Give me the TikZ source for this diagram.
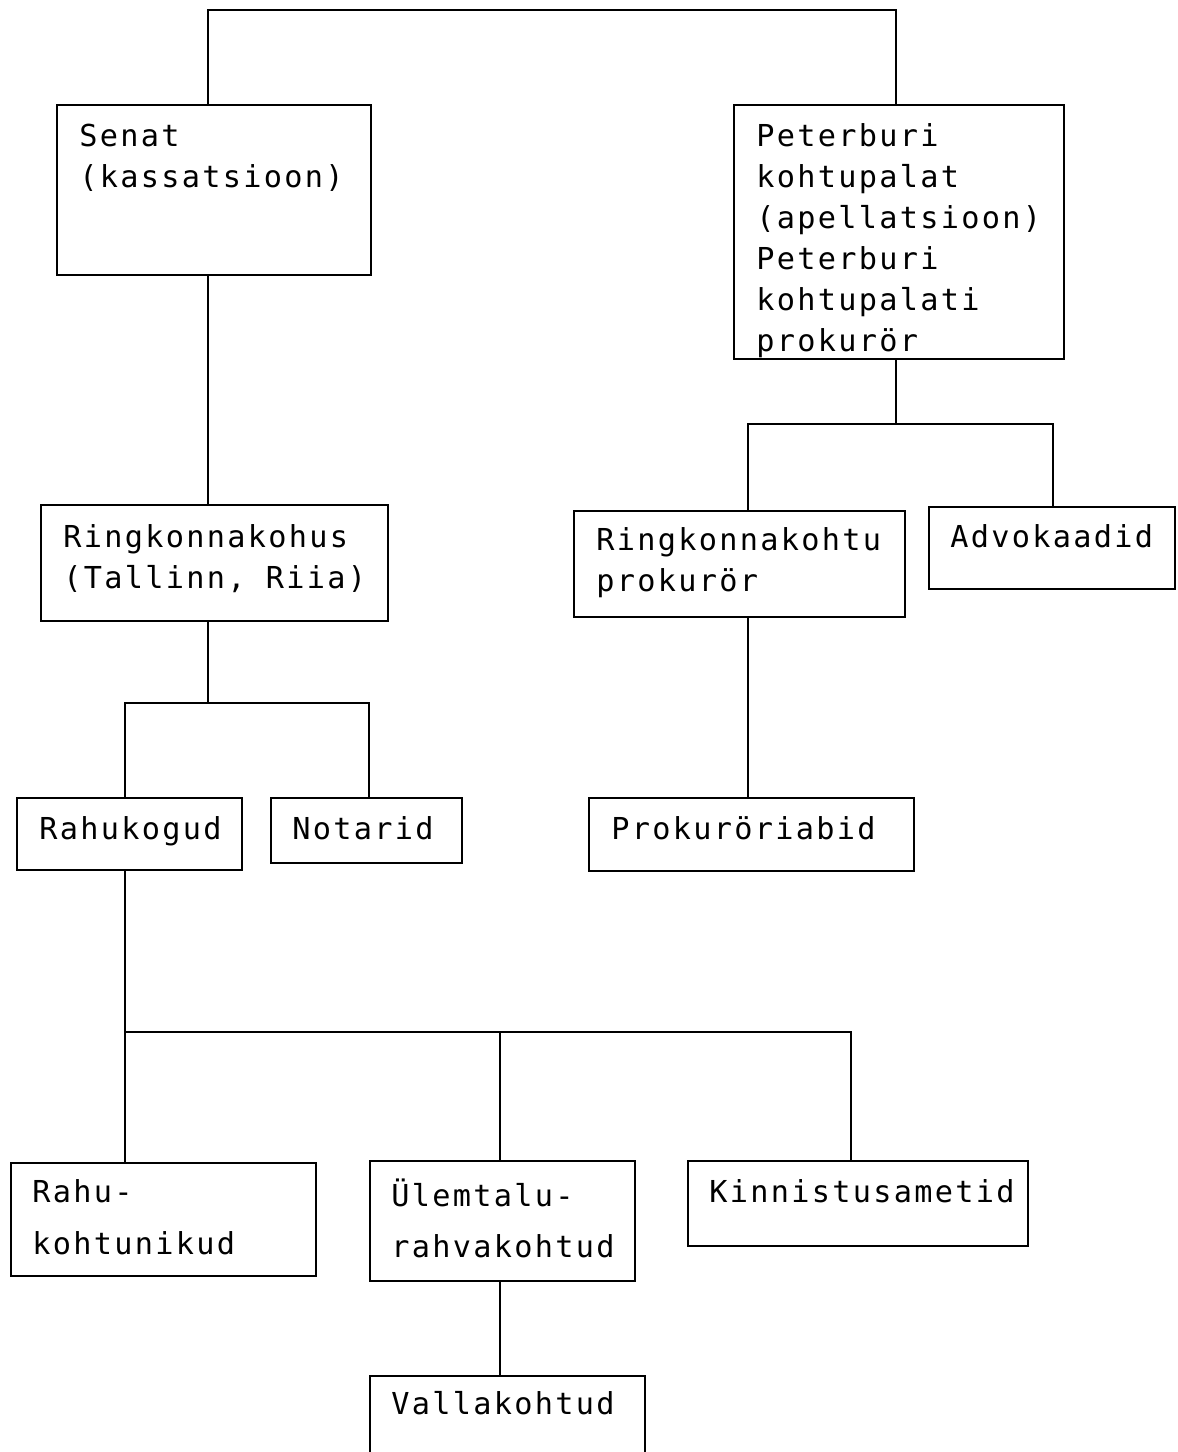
\documentclass[tikz,border=0pt]{standalone}
\usepackage{fontspec}
\setmonofont[LetterSpace=7.6]{DejaVu Sans Mono}
\usetikzlibrary{positioning,calc,fit}

\tikzset{
  box/.style={draw,line width=1.6pt,inner sep=0pt},
  lbl/.style={anchor=north west,inner sep=0pt,align=left,
    font=\ttfamily\fontsize{17.2}{23.3}\selectfont},
  lblwide/.style={lbl,font=\ttfamily\fontsize{17.2}{29.5}\selectfont},
}
% strut for the first line of every label
\newcommand{\fl}{\rule{0pt}{0.5cm}}

\begin{document}
\begin{tikzpicture}[x=0.02cm,y=-0.02cm,line width=1.6pt]
    \useasboundingbox (0,0) rectangle (1177,1452);
    % boxes
    \node[box,fit={(57,105) (371,275)}] (senat) {};
    \node[box,fit={(734,105) (1064,359)}] (peter) {};
    \node[box,fit={(41,505) (388,621)}] (ringk) {};
    \node[box,fit={(574,511) (905,617)}] (rkprok) {};
    \node[box,fit={(929,507) (1175,589)}] (advok) {};
    \node[box,fit={(17,798) (242,870)}] (rahukogud) {};
    \node[box,fit={(271,798) (462,863)}] (notarid) {};
    \node[box,fit={(589,798) (914,871)}] (prokab) {};
    \node[box,fit={(11,1163) (316,1276)}] (rahuk) {};
    \node[box,fit={(370,1161) (635,1281)}] (ulem) {};
    \node[box,fit={(688,1161) (1028,1246)}] (kinn) {};
    \node[box,fit={(370,1376) (645,1458)}] (valla) {};
    % texts
    \node[lbl] (senat_t) at (78,120) {\fl Senat\\(kassatsioon)};
    \node[lbl] (peter_t) at (755,120) {\fl Peterburi\\kohtupalat\\(apellatsioon)\\Peterburi\\kohtupalati\\prokurör};
    \node[lbl] (ringk_t) at (62,521) {\fl Ringkonnakohus\\(Tallinn, Riia)};
    \node[lbl] (rkprok_t) at (595,524) {\fl Ringkonnakohtu\\prokurör};
    \node[lbl] (advok_t) at (949,521) {\fl Advokaadid};
    \node[lbl] (rahukogud_t) at (38,813) {\fl Rahukogud};
    \node[lbl] (notarid_t) at (291,813) {\fl Notarid};
    \node[lbl] (prokab_t) at (610,813) {\fl Prokuröriabid};
    \node[lblwide] (rahuk_t) at (31,1176) {\fl Rahu-\\kohtunikud};
    \node[lblwide] (ulem_t) at (390,1177) {\fl Ülemtalu-\\rahvakohtud};
    \node[lbl] (kinn_t) at (708,1176) {\fl Kinnistusametid};
    \node[lbl] (valla_t) at (390,1388) {\fl Vallakohtud};
    % junctions
    \coordinate (top_l) at (208,10);
    \coordinate (top_r) at (896,10);
    \coordinate (rk) at (208,703);
    \coordinate (rk_l) at (125,703);
    \coordinate (rk_r) at (369,703);
    \coordinate (pk) at (896,424);
    \coordinate (pk_l) at (748,424);
    \coordinate (pk_r) at (1053,424);
    \coordinate (hk) at (125,1032);
    \coordinate (hk_m) at (500,1032);
    \coordinate (hk_r) at (851,1032);

    \draw (senat.north -| top_l) -- (top_l) -- (top_r) -- (peter.north -| top_r);
    \draw (senat.south -| top_l) -- (ringk.north -| top_l);
    \draw (ringk.south -| rk) -- (rk);
    \draw (rahukogud.north -| rk_l) -- (rk_l) -- (rk_r) -- (notarid.north -| rk_r);
    \draw (peter.south -| pk) -- (pk);
    \draw (rkprok.north -| pk_l) -- (pk_l) -- (pk_r) -- (advok.north -| pk_r);
    \draw (rkprok.south -| pk_l) -- (prokab.north -| pk_l);
    \draw (rahukogud.south -| hk) -- (hk) -- (rahuk.north -| hk);
    \draw (hk) -- (hk_r) -- (kinn.north -| hk_r);
    \draw (ulem.north -| hk_m) -- (hk_m);
    \draw (ulem.south -| hk_m) -- (valla.north -| hk_m);
\end{tikzpicture}
\end{document}
